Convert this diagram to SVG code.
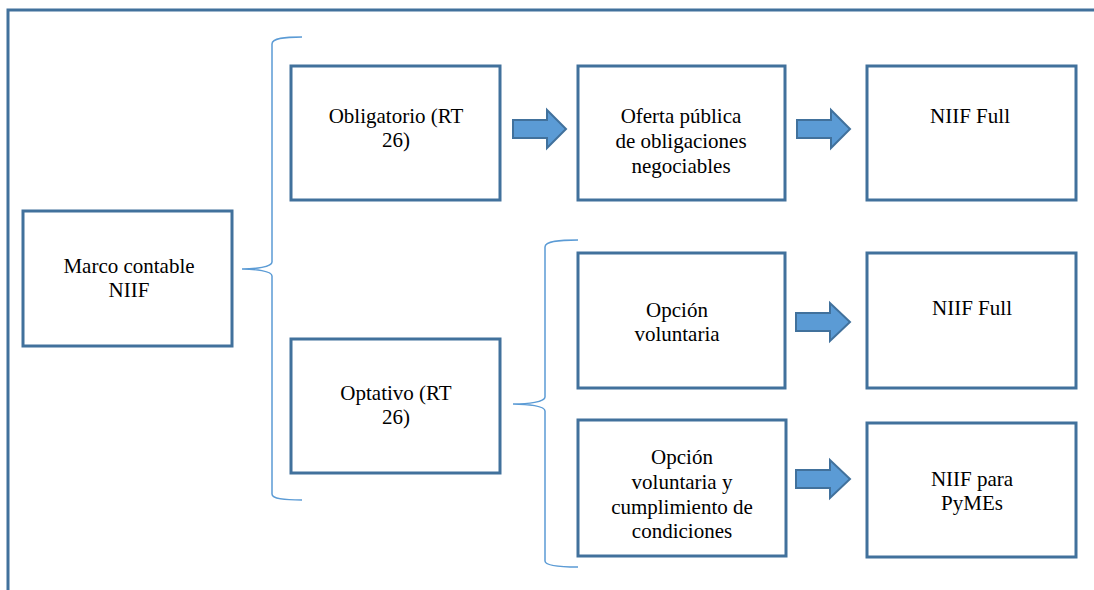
<svg xmlns="http://www.w3.org/2000/svg" width="1094" height="590" viewBox="0 0 1094 590">
<style>
.box{fill:#fff;stroke:#41719C;stroke-width:3}
.frame{fill:none;stroke:#41719C;stroke-width:3}
.brace{fill:none;stroke:#5B9BD5;stroke-width:1.5}
.arr{fill:#5B9BD5;stroke:#41719C;stroke-width:2;stroke-linejoin:miter}
.t{font-family:'Liberation Serif','DejaVu Serif','Times New Roman',Times,serif;font-size:21px;fill:#000;text-anchor:middle}
</style>
<rect width="1094" height="590" fill="#fff"/>
<path class="frame" d="M8,590 V10 H1094"/>
<g id="connectors">
<path class="brace" d="M302,37 C285,37 272,38 272,44 V262 C272,267 255,269 242,269 C255,269 272,271 272,276 V494 C272,499 285,500 302,500"/>
<path class="brace" d="M578,240 C560,240 545,241 545,247 V397 C545,402 528,404 513,404 C528,404 545,406 545,411 V561 C545,566 560,567 578,567"/>
<path class="arr" d="M513,120 H547 V110 L566,129 L547,148 V138 H513 Z"/>
<path class="arr" d="M797,120 H831 V110 L850,129 L831,148 V138 H797 Z"/>
<path class="arr" d="M796,313 H830 V303 L850,322 L830,341 V331 H796 Z"/>
<path class="arr" d="M796,470 H830 V460 L850,479 L830,498 V488 H796 Z"/>
</g>
<g id="marco" class="t">
<rect class="box" x="23" y="211" width="209" height="135"/>
<text x="129" y="273">Marco contable</text>
<text x="129" y="297">NIIF</text>
</g>
<g id="obligatorio" class="t">
<rect class="box" x="291" y="66" width="209" height="134"/>
<text x="396" y="123">Obligatorio (RT</text>
<text x="396" y="147">26)</text>
</g>
<g id="optativo" class="t">
<rect class="box" x="291" y="339" width="209" height="134"/>
<text x="396" y="400">Optativo (RT</text>
<text x="396" y="424">26)</text>
</g>
<g id="oferta" class="t">
<rect class="box" x="578" y="66" width="207" height="134"/>
<text x="681" y="123">Oferta pública</text>
<text x="681" y="148">de obligaciones</text>
<text x="681" y="173">negociables</text>
</g>
<g id="niif-full-1" class="t">
<rect class="box" x="867" y="66" width="209" height="134"/>
<text x="970" y="123">NIIF Full</text>
</g>
<g id="opcion-voluntaria" class="t">
<rect class="box" x="578" y="253" width="207" height="135"/>
<text x="677" y="317">Opción</text>
<text x="677" y="341">voluntaria</text>
</g>
<g id="niif-full-2" class="t">
<rect class="box" x="867" y="253" width="209" height="135"/>
<text x="972" y="315">NIIF Full</text>
</g>
<g id="opcion-condiciones" class="t">
<rect class="box" x="578" y="420" width="208" height="136"/>
<text x="682" y="464">Opción</text>
<text x="682" y="489">voluntaria y</text>
<text x="682" y="514">cumplimiento de</text>
<text x="682" y="538">condiciones</text>
</g>
<g id="niif-pymes" class="t">
<rect class="box" x="867" y="423" width="209" height="134"/>
<text x="972" y="486">NIIF para</text>
<text x="972" y="510">PyMEs</text>
</g>
</svg>
